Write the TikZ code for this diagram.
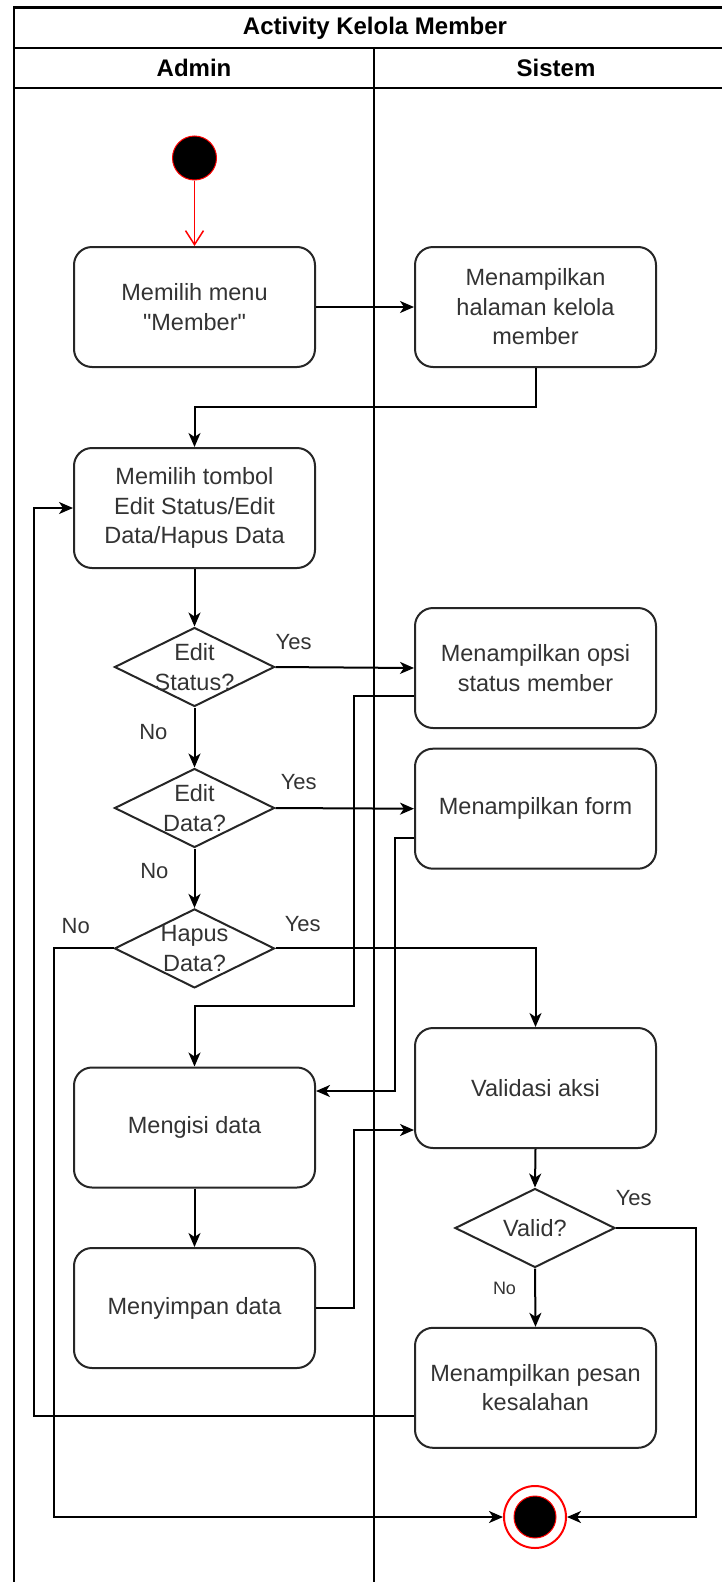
\documentclass[tikz,border=0pt]{standalone}
\usepackage{fontspec}
\setmainfont{Liberation Sans}[Ligatures=TeXOff]
\usetikzlibrary{arrows.meta,shapes.geometric}
\definecolor{txt}{HTML}{333333}
\begin{document}
\begin{tikzpicture}[x=1pt,y=-1pt,
  lane/.style={line width=2.2pt, draw=black},
  act/.style={draw=black!85, line width=2pt, rounded corners=18pt, minimum width=241pt, minimum height=120pt, align=center, font=\fontsize{23.5}{29.5}\selectfont, text=txt, fill=white, inner sep=0pt},
  dec/.style={draw=black!85, line width=2pt, diamond, minimum width=160pt, minimum height=79pt, inner sep=0pt, fill=white},
  dtext/.style={font=\fontsize{23.5}{29.5}\selectfont, text=txt, align=center, inner sep=0pt},
  lbl/.style={font=\fontsize{22}{26}\selectfont, text=txt, inner sep=0pt},
  head/.style={font=\bfseries\fontsize{24}{28}\selectfont, text=black, inner sep=0pt},
  flow/.style={line width=2pt, draw=black, -{Stealth[length=14pt,width=12pt,inset=4pt]}},
]
\useasboundingbox (0,0) rectangle (722,1582);
% swimlane frame
\draw[lane] (722,7.5) -- (14,7.5) -- (14,1582);
\draw[lane] (14,48) -- (722,48);
\draw[lane] (14,88) -- (722,88);
\draw[lane] (374,48) -- (374,1582);
\node[head] (title) at (375,28) {Activity Kelola Member};
\node[head] (admin) at (194,68) {Admin};
\node[head] (sistem) at (556,68) {Sistem};

% nodes
\node[circle, fill=black, draw=red, line width=1pt, minimum size=44pt, inner sep=0pt] (start) at (194.5,158) {};
\node[act] (b1) at (194.5,307) {Memilih menu\\\symbol{34}Member\symbol{34}};
\node[act] (b2) at (535.5,307) {Menampilkan\\halaman kelola\\member};
\node[act] (b3) at (194.5,508) {Memilih tombol\\Edit Status/Edit\\Data/Hapus Data};
\node[dec] (d1) at (194.5,667) {};
\node[dtext] (t1) at (194.5,667) {Edit\\Status?};
\node[act] (b4) at (535.5,668) {Menampilkan opsi\\status member};
\node[dec] (d2) at (194.5,808) {};
\node[dtext] (t2) at (194.5,808) {Edit\\Data?};
\node[act] (b5) at (535.5,808.7) {Menampilkan form};
\node[dec] (d3) at (194.5,948.4) {};
\node[dtext] (t3) at (194.5,948.4) {Hapus\\Data?};
\node[act] (b6) at (535.5,1088) {Validasi aksi};
\node[act] (b7) at (194.5,1127.5) {Mengisi data};
\node[act] (b8) at (194.5,1308) {Menyimpan data};
\node[dec] (d4) at (535,1228) {};
\node[dtext] (t4) at (535,1228) {Valid?};
\node[act] (b9) at (535.5,1387.8) {Menampilkan pesan\\kesalahan};
\node[circle, draw=red, line width=2pt, fill=white, minimum size=62pt, inner sep=0pt] (end) at (535,1517) {};
\node[circle, fill=black, draw=red, line width=1pt, minimum size=42pt, inner sep=0pt] (endin) at (535,1517) {};

% labels
\node[lbl] (y1) at (293.6,641.7) {Yes};
\node[lbl] (n1) at (153.4,732.5) {No};
\node[lbl] (y2) at (298.7,782) {Yes};
\node[lbl] (n2) at (154.4,870.8) {No};
\node[lbl] (n3) at (75.7,926) {No};
\node[lbl] (y3) at (302.7,924) {Yes};
\node[lbl] (y4) at (633.7,1197.7) {Yes};
\node[lbl, font=\fontsize{18}{22}\selectfont] (n4) at (504.5,1288.5) {No};

% connectors
\draw[red, line width=1.5pt, -{Straight Barb[length=14pt,width=18pt]}] (start) -- (b1);
\draw[flow] (b1.east) -- (b2.west);
\draw[flow] (b2.south) -- (535.5,407) -| (b3.north);
\draw[flow] (b3.south) -- (d1.north);
\draw[flow] (d1.east) -- (b4.west);
\draw[flow] (d1.south) -- (d2.north);
\draw[flow] (d2.east) -- (b5.west);
\draw[flow] (d2.south) -- (d3.north);
\draw[flow] (d3.west) -- ++(-60,0) |- (end.west);
\draw[flow] (d3.east) -| (b6.north);
\draw[flow] ([yshift=-28pt]b4.west) -| (354,1006) -| (b7.north);
\draw[flow] ([yshift=-29pt]b5.west) -| (394.5,1091) -- ([yshift=36.5pt]b7.east);
\draw[flow] (b7.south) -- (b8.north);
\draw[flow] (b8.east) -| (354,1130) -- ([yshift=-42pt]b6.west);
\draw[flow] (b6.south) -- (d4.north);
\draw[flow] (d4.east) -- ++(80,0) |- (end.east);
\draw[flow] (d4.south) -- (b9.north);
\draw[flow] ([yshift=-28pt]b9.west) -- (33.5,1415.8) |- (b3.west);
\end{tikzpicture}
\end{document}
